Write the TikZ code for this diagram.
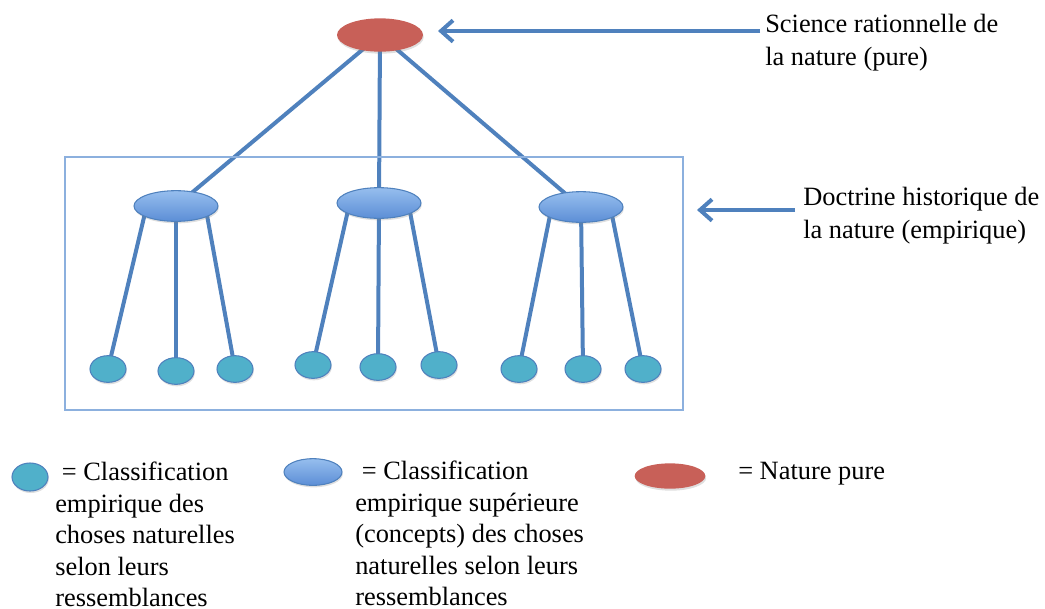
\documentclass[tikz,border=0pt]{standalone}
\usepackage{fontspec}
\setmainfont{Liberation Serif}
\usetikzlibrary{shapes.geometric,arrows.meta,shadows,backgrounds}
\definecolor{lineblue}{RGB}{79,129,189}
\definecolor{natred}{RGB}{200,96,88}
\definecolor{tealc}{RGB}{80,176,202}
\definecolor{tealb}{RGB}{62,150,180}
\definecolor{midtop}{RGB}{150,190,238}
\definecolor{midbot}{RGB}{92,142,214}
\definecolor{framec}{RGB}{140,176,222}
\tikzset{
  shad/.style={drop shadow={opacity=0.25,shadow xshift=0.6pt,shadow yshift=-1.5pt}},
  rednode/.style={ellipse,inner sep=0pt,fill=natred,shad},
  midnode/.style={ellipse,inner sep=0pt,draw=lineblue,line width=0.8pt,top color=midtop,bottom color=midbot,shad},
  leafnode/.style={ellipse,inner sep=0pt,minimum width=27pt,minimum height=20pt,draw=lineblue,line width=0.8pt,fill=tealc,shad},
  conn/.style={draw=lineblue,line width=3pt},
  pointer/.style={draw=lineblue,line width=3pt,-{Straight Barb[length=9pt,width=16pt,line width=3pt]}},
  label/.style={anchor=north west,inner sep=0pt,align=left,font=\fontsize{19.8}{25}\selectfont},
  legtext/.style={anchor=north west,inner sep=0pt,align=left,font=\fontsize{19.8}{23.6}\selectfont},
}
\begin{document}
\begin{tikzpicture}[x=0.75pt,y=-0.75pt]
\useasboundingbox (0,0) rectangle (1045,608);
% frame
\node (box) [draw=framec,line width=1.5pt,minimum width=463.5pt,minimum height=189.75pt,inner sep=0pt] at (374,283.5) {};
% top node
\node (top) [rednode,minimum width=64.5pt,minimum height=25pt] at (380,35) {};
% middle nodes
\node (m1) [midnode,minimum width=63pt,minimum height=23pt] at (176,206) {};
\node (m2) [midnode,minimum width=63pt,minimum height=23pt] at (379,203) {};
\node (m3) [midnode,minimum width=63pt,minimum height=23pt] at (581,207) {};
% leaves
\node (l1) [leafnode] at (108,369) {};
\node (l2) [leafnode] at (176,371) {};
\node (l3) [leafnode] at (235,369) {};
\node (l4) [leafnode] at (313,365) {};
\node (l5) [leafnode] at (378,367) {};
\node (l6) [leafnode] at (439,365) {};
\node (l7) [leafnode] at (519,369) {};
\node (l8) [leafnode] at (583,369) {};
\node (l9) [leafnode] at (643,369) {};
\begin{pgfonlayer}{background}
\draw[conn] (top.center) -- (m1.center);
\draw[conn] (top.center) -- (m2.center);
\draw[conn] (top.center) -- (m3.center);
\draw[conn] ([xshift=-22pt]m1.center) -- (l1.center);
\draw[conn] (m1.center) -- (l2.center);
\draw[conn] ([xshift=22pt]m1.center) -- (l3.center);
\draw[conn] ([xshift=-22pt]m2.center) -- (l4.center);
\draw[conn] (m2.center) -- (l5.center);
\draw[conn] ([xshift=22pt]m2.center) -- (l6.center);
\draw[conn] ([xshift=-22pt]m3.center) -- (l7.center);
\draw[conn] (m3.center) -- (l8.center);
\draw[conn] ([xshift=22pt]m3.center) -- (l9.center);
\end{pgfonlayer}
% annotations
\coordinate (a1s) at (760,31);
\coordinate (a1e) at (438,31);
\draw[pointer] (a1s) -- (a1e);
\node (t1) [label] at (765,14) {Science rationnelle de\\la nature (pure)};
\coordinate (a2s) at (795,210);
\coordinate (a2e) at (697,210);
\draw[pointer] (a2s) -- (a2e);
\node (t2) [label] at (803,187) {Doctrine historique de\\la nature (empirique)};
% legend
\node (k1) [leafnode,minimum width=27pt,minimum height=21pt] at (30,477) {};
\node (k1t) [legtext] at (55,462) {\ = Classification\\empirique des\\choses naturelles\\selon leurs\\ressemblances};
\node (k2) [midnode,minimum width=43.5pt,minimum height=20pt] at (313,472) {};
\node (k2t) [legtext] at (355,461) {\ = Classification\\empirique supérieure\\(concepts) des choses\\naturelles selon leurs\\ressemblances};
\node (k3) [rednode,minimum width=53pt,minimum height=19pt] at (670,476) {};
\node (k3t) [legtext] at (738,462) {= Nature pure};
\end{tikzpicture}
\end{document}
